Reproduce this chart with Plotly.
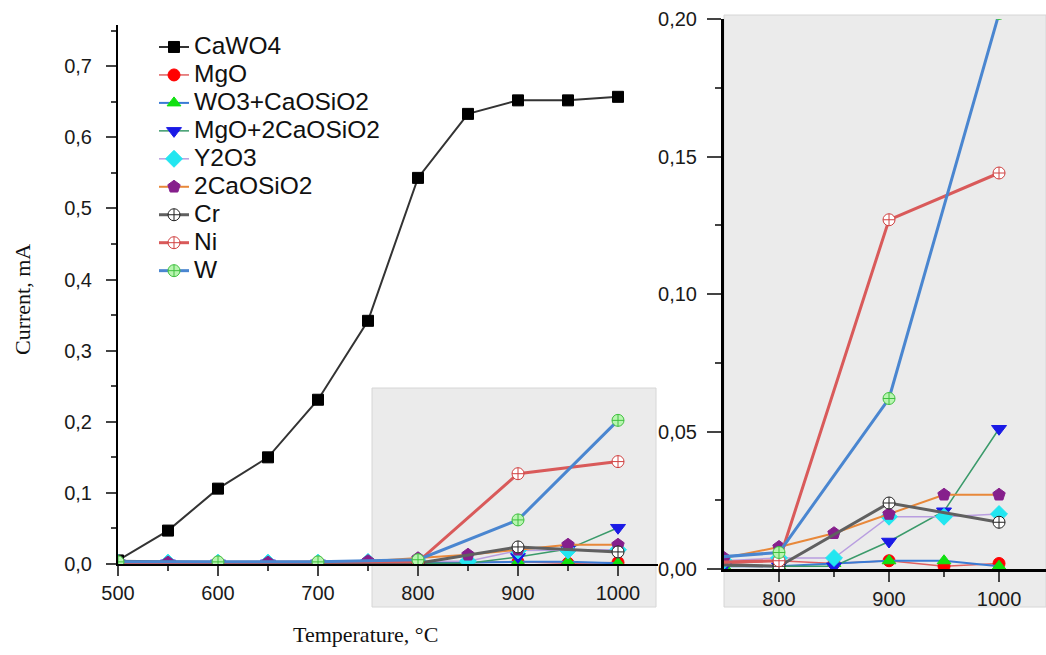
import plotly.graph_objects as go

# ---------------- data ----------------
temps_50 = [500, 550, 600, 650, 700, 750, 800, 850, 900, 950, 1000]
temps_100 = [500, 600, 700, 800, 900, 1000]

cawo4 = [0.005, 0.047, 0.106, 0.150, 0.231, 0.342, 0.543, 0.633, 0.652, 0.652, 0.657]
mgo = [0.001, 0.001, 0.001, 0.001, 0.001, 0.002, 0.003, 0.002, 0.003, 0.001, 0.002]
wo3_caosio2 = [0.001, 0.001, 0.001, 0.001, 0.001, 0.001, 0.001, 0.002, 0.003, 0.003, 0.001]
mgo_2caosio2 = [0.001, 0.001, 0.001, 0.001, 0.001, 0.001, 0.001, 0.001, 0.010, 0.021, 0.051]
y2o3 = [0.002, 0.002, 0.002, 0.002, 0.002, 0.003, 0.004, 0.004, 0.019, 0.019, 0.020]
caosio2_2 = [0.002, 0.002, 0.002, 0.002, 0.002, 0.004, 0.008, 0.013, 0.020, 0.027, 0.027]
cr = [0.004, 0.002, 0.002, 0.001, 0.024, 0.017]
ni = [0.002, 0.002, 0.002, 0.003, 0.127, 0.144]
w = [0.003, 0.003, 0.003, 0.006, 0.062, 0.202]

series = [
    ("CaWO4", temps_50, cawo4, "#333333", 2, "square", "#000000", "#000000", 11),
    ("MgO", temps_50, mgo, "#e06060", 1.5, "circle", "#ff0000", "#ff0000", 12),
    ("WO3+CaOSiO2", temps_50, wo3_caosio2, "#3a7bd5", 2, "triangle-up", "#10e010", "#10e010", 12),
    ("MgO+2CaOSiO2", temps_50, mgo_2caosio2, "#3a9a6a", 1.5, "triangle-down", "#1a1ae6", "#1a1ae6", 13),
    ("Y2O3", temps_50, y2o3, "#b99ee0", 1.5, "diamond", "#22e6f0", "#22e6f0", 13),
    ("2CaOSiO2", temps_50, caosio2_2, "#e8883a", 2, "pentagon", "#861f8c", "#861f8c", 13),
    ("Cr", temps_100, cr, "#606060", 3, "circle-cross", "#ffffff", "#222222", 12),
    ("Ni", temps_100, ni, "#d95a5a", 3, "circle-cross", "#ffffff", "#d04040", 12),
    ("W", temps_100, w, "#4a86d0", 3, "circle-cross", "#b8f5b0", "#40c040", 12),
]

W_PX, H_PX = 1046, 655

fig = go.Figure()
for name, xs, ys, lc, lw, sym, mc, mlc, ms in series:
    for xa, ya, show in (("x", "y", True), ("x2", "y2", False)):
        fig.add_trace(go.Scatter(
            x=xs, y=ys, name='<span style="font-size:24.5px">' + name + '</span>',
            mode="lines+markers",
            xaxis=xa, yaxis=ya, showlegend=show,
            line=dict(color=lc, width=lw),
            marker=dict(symbol=sym, color=mc, size=ms,
                        line=dict(color=mlc, width=1)),
        ))

def px_x(p):
    return p / W_PX

def px_y(p):
    return (H_PX - p) / H_PX

tickfont = dict(family="Liberation Sans, Arial, sans-serif", size=20, color="#1a1a1a")
titlefont = dict(family="Liberation Serif, Times New Roman, serif", size=22, color="#111111")

fig.update_layout(
    width=W_PX, height=H_PX,
    margin=dict(l=0, r=0, t=0, b=0),
    paper_bgcolor="white", plot_bgcolor="rgba(0,0,0,0)",
    separators=",.",
    showlegend=True,
    legend=dict(x=px_x(154), y=px_y(28), xanchor="left", yanchor="top",
                bgcolor="rgba(0,0,0,0)",
                font=dict(family="Liberation Sans, Arial, sans-serif", size=19.2, color="#111111")),
    xaxis=dict(domain=[px_x(118), px_x(658)], range=[500, 1040], anchor="y",
               tickvals=[500, 600, 700, 800, 900, 1000], ticks="outside", ticklen=10, tickwidth=2,
               ticklabelstandoff=0,
               minor=dict(tickvals=[550, 650, 750, 850, 950], ticks="outside", ticklen=5, tickwidth=2),
               showline=True, linecolor="black", linewidth=2, showgrid=False, zeroline=False,
               tickfont=tickfont, automargin=False),
    yaxis=dict(domain=[px_y(564), px_y(25)], range=[0, 0.758], anchor="x",
               dtick=0.1, tickformat=".1f", ticks="outside", ticklen=10, tickwidth=2,
               ticklabelstandoff=10,
               minor=dict(dtick=0.05, ticks="outside", ticklen=5, tickwidth=2),
               showline=True, linecolor="black", linewidth=2, showgrid=False, zeroline=False,
               tickfont=tickfont, automargin=False),
    xaxis2=dict(domain=[px_x(724), 1.0], range=[750, 1042.7], anchor="y2",
                tickvals=[800, 900, 1000], ticks="outside", ticklen=10, tickwidth=2,
                ticklabelstandoff=0,
                minor=dict(tickvals=[850, 950], ticks="outside", ticklen=5, tickwidth=2),
                showline=True, linecolor="black", linewidth=3, showgrid=False, zeroline=False,
                tickfont=tickfont, automargin=False),
    yaxis2=dict(domain=[px_y(569), px_y(19)], range=[0, 0.2], anchor="x2",
                dtick=0.05, tickformat=".2f", ticks="outside", ticklen=14, tickwidth=2,
                ticklabelstandoff=6,
                minor=dict(dtick=0.025, ticks="outside", ticklen=6, tickwidth=2),
                showline=True, linecolor="black", linewidth=3, showgrid=False, zeroline=False,
                tickfont=tickfont, automargin=False),
    shapes=[
        dict(type="rect", xref="x", yref="paper", x0=754, x1=1038,
             y0=px_y(607), y1=px_y(388), fillcolor="#ebebeb",
             line=dict(color="#d6d6d6", width=1), layer="below"),
        dict(type="rect", xref="paper", yref="paper", x0=px_x(724), x1=1.0,
             y0=px_y(607), y1=px_y(15), fillcolor="#ebebeb",
             line=dict(color="#d6d6d6", width=1), layer="below"),
    ],
    annotations=[
        dict(text="Current, mA", xref="paper", yref="paper", x=px_x(22), y=px_y(300),
             textangle=-90, showarrow=False, xanchor="center", yanchor="middle",
             font=titlefont),
        dict(text="Temperature, °C", xref="paper", yref="paper", x=px_x(365), y=px_y(634),
             showarrow=False, xanchor="center", yanchor="middle",
             font=titlefont),
    ],
)

fig.write_html("out.html", config={"displayModeBar": False},
               post_script="document.body.style.margin='0';")
